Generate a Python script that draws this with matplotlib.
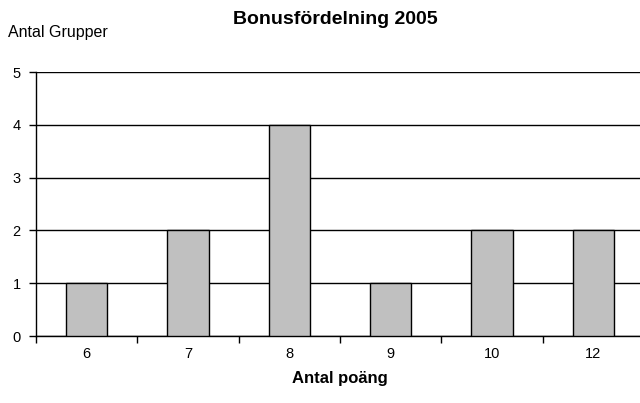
import numpy as np
import matplotlib.pyplot as plt

points = ['6', '7', '8', '9', '10', '12']
groups = [1, 2, 4, 1, 2, 2]

plt.rcParams['font.family'] = ['Liberation Sans', 'DejaVu Sans']

fig = plt.figure(figsize=(6.4, 4.03), dpi=100)
ax = fig.add_axes([36/640, (403-336)/403, 608/640, (336-72)/403])

x = np.arange(len(points))
ax.set_axisbelow(True)
ax.yaxis.grid(True, color='black', linewidth=1)
ax.bar(x, groups, width=0.41, color='#c0c0c0', edgecolor='black', linewidth=1, zorder=3)

ax.set_xlim(-0.5, len(points) - 0.5)
ax.set_ylim(0, 5)
ax.set_yticks(range(6))
ax.set_xticks(x)
ax.set_xticklabels(points)
ax.set_xticks(np.arange(-0.5, len(points), 1), minor=True)
ax.tick_params(axis='x', which='major', length=0, pad=8, labelsize=10.5)
ax.tick_params(axis='x', which='minor', length=5, width=1, direction='out')
ax.tick_params(axis='y', length=5, width=1, direction='out', labelsize=10.5, pad=6)

for s in ['top', 'right']:
    ax.spines[s].set_visible(False)
ax.spines['left'].set_linewidth(1)
ax.spines['bottom'].set_linewidth(1)

ax.set_xlabel('Antal poäng', fontweight='bold', fontsize=12, labelpad=7)
fig.text(335/640, 1 - 20/403, 'Bonusfördelning 2005', fontweight='bold', fontsize=14,
         ha='center', va='center')
fig.text(8/640, 1 - 32/403, 'Antal Grupper', fontsize=11.5, ha='left', va='center')

fig.savefig('out.png', dpi=100)
